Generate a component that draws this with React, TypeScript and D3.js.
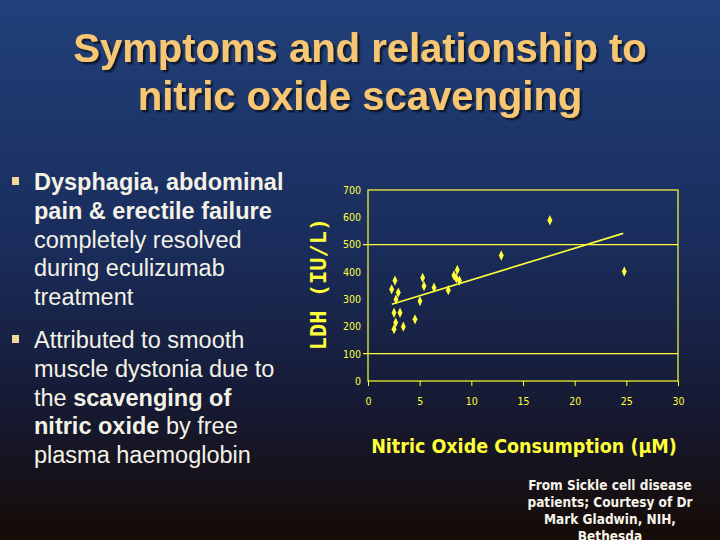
import { useEffect, useRef } from 'react';
import * as d3 from 'd3';

// LDH against NO consumption
const noConsumption = [2.29, 2.61, 2.93, 2.71, 2.52, 3.1, 2.68, 2.52, 3.42, 4.55, 5.03, 5.29, 5.42, 6.39, 7.77, 8.32, 8.64, 8.55, 8.85, 12.9, 17.6, 24.8];
const ldh = [336, 368, 324, 299, 250, 250, 214, 190, 199, 226, 293, 378, 348, 342, 333, 387, 407, 376, 368, 460, 589, 401];
const trendX = [2.3, 24.7];
const trendY = [281, 541];

const yTicks = [0, 100, 200, 300, 400, 500, 600, 700];
const xTicks = [0, 5, 10, 15, 20, 25, 30];
const gridValues = [100, 500];

const titleLines = ['Symptoms and relationship to', 'nitric oxide scavenging'];
const bulletOne = [
  [{ t: 'Dysphagia, abdominal', b: true }],
  [{ t: 'pain & erectile failure', b: true }],
  [{ t: 'completely resolved', b: false }],
  [{ t: 'during eculizumab', b: false }],
  [{ t: 'treatment', b: false }],
];
const bulletTwo = [
  [{ t: 'Attributed to smooth', b: false }],
  [{ t: 'muscle dystonia due to', b: false }],
  [{ t: 'the ', b: false }, { t: 'scavenging of', b: true }],
  [{ t: 'nitric oxide', b: true }, { t: ' by free', b: false }],
  [{ t: 'plasma haemoglobin', b: false }],
];
const creditLines = ['From Sickle cell disease', 'patients; Courtesy of Dr', 'Mark Gladwin, NIH,', 'Bethesda'];

const yellow = '#ffff3a';
const comic = '"Comic Sans MS", "DejaVu Sans Condensed", "DejaVu Sans", sans-serif';
const arial = '"Liberation Sans", Arial, sans-serif';

export default function App() {
  const svgRef = useRef<SVGSVGElement>(null);

  useEffect(() => {
    if (!svgRef.current) return;
    const svg = d3.select(svgRef.current);
    svg.selectAll('*').remove();

    const defs = svg.append('defs');
    const grad = defs.append('linearGradient').attr('id', 'bg').attr('x1', 0).attr('y1', 0).attr('x2', 0).attr('y2', 1);
    grad.append('stop').attr('offset', '0%').attr('stop-color', '#21407a');
    grad.append('stop').attr('offset', '45%').attr('stop-color', '#1a2d5c');
    grad.append('stop').attr('offset', '75%').attr('stop-color', '#161a33');
    grad.append('stop').attr('offset', '100%').attr('stop-color', '#160b06');

    const shadow = defs.append('filter').attr('id', 'shadow').attr('x', '-5%').attr('y', '-20%').attr('width', '110%').attr('height', '140%');
    shadow.append('feDropShadow')
      .attr('dx', 2.5).attr('dy', 2.5).attr('stdDeviation', 0.6)
      .attr('flood-color', '#0a1228').attr('flood-opacity', 0.9);

    svg.append('rect').attr('width', 720).attr('height', 540).attr('fill', 'url(#bg)');

    titleLines.forEach((line, i) => {
      svg.append('text')
        .attr('x', 360).attr('y', 62 + i * 48)
        .attr('text-anchor', 'middle')
        .attr('filter', 'url(#shadow)')
        .style('font-family', arial)
        .style('font-weight', 'bold')
        .style('font-size', '40px')
        .style('fill', '#f7c773')
        .text(line);
    });

    // bullets
    const drawBullet = (lines: { t: string; b: boolean }[][], top: number) => {
      svg.append('rect').attr('x', 12).attr('y', top - 13).attr('width', 7).attr('height', 8).attr('fill', '#f3d79a');
      lines.forEach((parts, i) => {
        const txt = svg.append('text')
          .attr('x', 34).attr('y', top + i * 28.8)
          .style('font-family', arial)
          .style('font-size', '23.5px')
          .style('fill', '#f4f2e6');
        parts.forEach(p => {
          txt.append('tspan').style('font-weight', p.b ? 'bold' : 'normal').text(p.t);
        });
      });
    };
    drawBullet(bulletOne, 190);
    drawBullet(bulletTwo, 348);

    // scatter chart
    const x = d3.scaleLinear().domain([0, 30]).range([368, 678]);
    const y = d3.scaleLinear().domain([0, 700]).range([381, 190]);

    const g = svg.append('g');

    g.selectAll('.grid')
      .data(gridValues)
      .join('line')
      .attr('x1', x(0) - 5).attr('x2', x(30))
      .attr('y1', d => y(d)).attr('y2', d => y(d))
      .attr('stroke', yellow).attr('stroke-width', 1.2);

    g.append('rect')
      .attr('x', x(0)).attr('y', y(700))
      .attr('width', x(30) - x(0)).attr('height', y(0) - y(700))
      .attr('fill', 'none').attr('stroke', yellow).attr('stroke-width', 1.2);

    const yAxis = g.append('g')
      .attr('transform', `translate(${x(0)},0)`)
      .call(d3.axisLeft(y).tickValues(yTicks).tickSize(0).tickPadding(7).tickFormat(d3.format('d')));
    yAxis.select('.domain').remove();
    yAxis.selectAll('.tick line').remove();
    yAxis.selectAll('text')
      .style('font-family', comic)
      .style('font-size', '10.5px')
      .style('fill', yellow);

    const xAxis = g.append('g')
      .attr('transform', `translate(0,${y(0)})`)
      .call(d3.axisBottom(x).tickValues(xTicks).tickSize(5).tickPadding(12).tickFormat(d3.format('d')));
    xAxis.select('.domain').remove();
    xAxis.selectAll('.tick line').attr('stroke', yellow);
    xAxis.selectAll('text')
      .style('font-family', comic)
      .style('font-size', '10.5px')
      .style('fill', yellow);

    const pts = noConsumption.map((v, i) => [v, ldh[i]] as [number, number]);
    g.selectAll('.pt')
      .data(pts)
      .join('path')
      .attr('d', d3.symbol(d3.symbolDiamond, 28)() as string)
      .attr('transform', d => `translate(${x(d[0])},${y(d[1])}) scale(0.85,1.05)`)
      .attr('fill', yellow);

    const trend = trendX.map((v, i) => [v, trendY[i]] as [number, number]);
    g.append('path')
      .datum(trend)
      .attr('d', d3.line<[number, number]>().x(d => x(d[0])).y(d => y(d[1])))
      .attr('stroke', yellow).attr('stroke-width', 1.6).attr('fill', 'none');

    g.append('text')
      .attr('transform', `translate(326,284) rotate(-90)`)
      .attr('text-anchor', 'middle')
      .style('font-family', '"DejaVu Sans Mono", "Liberation Mono", monospace')
      .style('font-weight', 'bold')
      .style('font-size', '22px')
      .style('fill', yellow)
      .text('LDH (IU/L)');

    g.append('text')
      .attr('x', 524).attr('y', 453)
      .attr('text-anchor', 'middle')
      .style('font-family', comic)
      .style('font-weight', 'bold')
      .style('font-size', '19.5px')
      .style('fill', yellow)
      .text('Nitric Oxide Consumption (\u00b5M)');

    creditLines.forEach((line, i) => {
      svg.append('text')
        .attr('x', 610).attr('y', 490 + i * 17)
        .attr('text-anchor', 'middle')
        .style('font-family', comic)
        .style('font-weight', 'bold')
        .style('font-size', '13.5px')
        .style('fill', '#f6f3e8')
        .text(line);
    });
  }, []);

  return (
    <div style={{ position: 'absolute', left: 0, top: 0 }}>
      <svg ref={svgRef} width={720} height={540} style={{ display: 'block' }} />
    </div>
  );
}
